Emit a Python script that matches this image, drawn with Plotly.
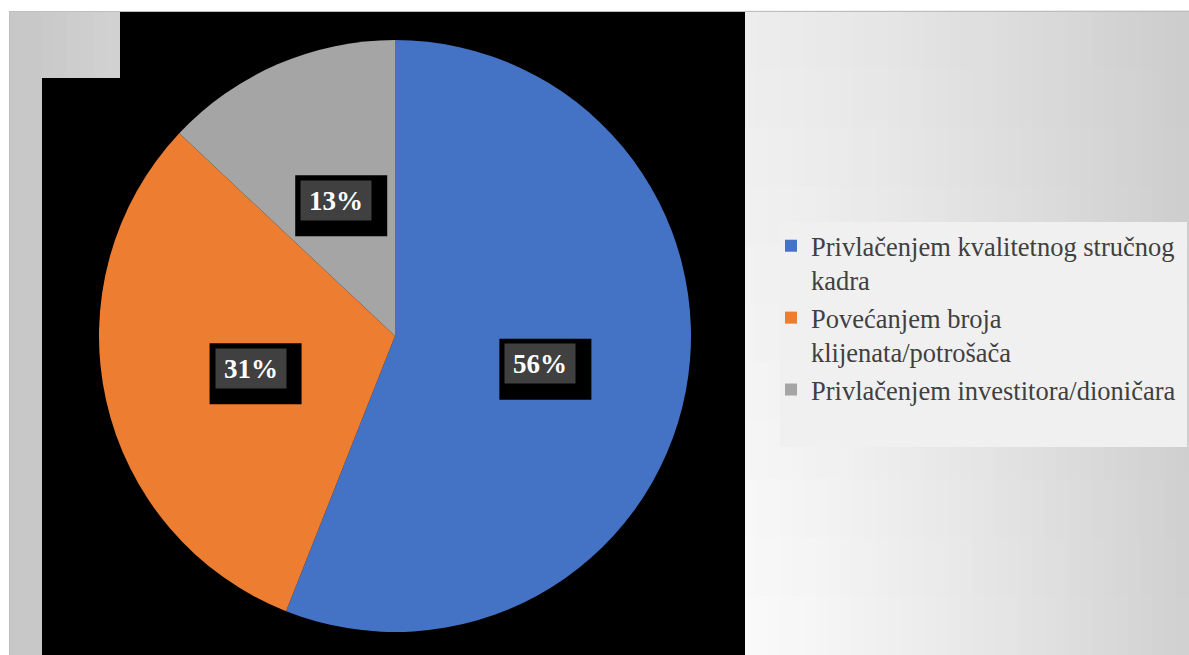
import math
import plotly.graph_objects as go

# ---- data ----
categories = [
    "Privlačenjem kvalitetnog stručnog<br>kadra",
    "Povećanjem broja<br>klijenata/potrošača",
    "Privlačenjem investitora/dioničara",
]
values = [56, 31, 13]
colors = ["#4472C4", "#ED7D31", "#A5A5A5"]

W, H = 1189, 655          # figure size = window size (page pixels)
CX, CY, R = 395, 336, 296

fig = go.Figure()

fig.add_trace(go.Pie(
    labels=categories,
    values=values,
    sort=False,
    direction="clockwise",
    rotation=0,
    marker=dict(colors=colors, line=dict(width=0)),
    textinfo="none",
    hoverinfo="label+percent",
    domain=dict(x=[(CX - R) / W, (CX + R) / W],
                y=[1 - (CY + R) / H, 1 - (CY - R) / H]),
    showlegend=True,
))

shapes = []

def rect(x0, y0, x1, y1, fill, layer="below"):
    shapes.append(dict(type="rect", xref="x", yref="y", x0=x0, y0=y0, x1=x1, y1=y1,
                       fillcolor=fill, line=dict(width=0), layer=layer))

def gray(c):
    c = int(max(0, min(255, round(c))))
    return f"rgb({c},{c},{c})"

# background: left strip and top-left block
rect(9, 11, 42, H, gray(200))
ncol_l = 6
for i in range(ncol_l):
    x0 = 42 + (120 - 42) * i / ncol_l
    x1 = 42 + (120 - 42) * (i + 1) / ncol_l
    rect(x0 - 1, 11, x1 + 1, 78, gray(201 + 9 * (i + 0.5) / ncol_l))
# right region gradient
ncol, nrow = 37, 11
x_start, x_end, y_start, y_end = 745, W, 11, H
for i in range(ncol):
    for j in range(nrow):
        u = (i + 0.5) / ncol
        v = (j + 0.5) / nrow
        left = 236 + 14 * v
        right = 204 + 4 * v
        c = left + (right - left) * (u ** 1.3)
        rect(x_start + (x_end - x_start) * i / ncol - 0.5, y_start + (y_end - y_start) * j / nrow - 0.5,
             x_start + (x_end - x_start) * (i + 1) / ncol + 0.5,
             y_start + (y_end - y_start) * (j + 1) / nrow + 0.5, gray(c))
# top / left border lines
shapes.append(dict(type="line", xref="x", yref="y", x0=9, x1=W, y0=11.5, y1=11.5,
                   line=dict(color="#bdbdbd", width=1), layer="below"))
shapes.append(dict(type="line", xref="x", yref="y", x0=9.5, x1=9.5, y0=11, y1=H,
                   line=dict(color="#bdbdbd", width=1), layer="below"))
# black plot area
rect(120, 12, 745, 78, "black")
rect(42, 78, 745, H, "black")
# legend panel
rect(780, 222, 1187, 447, "#f0f0f0")

# data labels
annotations = []
total = sum(values)
cum = 0
for v in values:
    mid = (cum + v / 2) / total * 2 * math.pi
    cum += v
    lx = CX + 0.5 * R * math.sin(mid)
    ly = CY - 0.5 * R * math.cos(mid)
    rect(lx - 41, ly - 25, lx + 51, ly + 36, "black", layer="above")
    annotations.append(dict(
        x=lx, y=ly, xref="x", yref="y", text=f"<b>{round(v / total * 100)}%</b>",
        showarrow=False, font=dict(family="Liberation Serif", size=27, color="white"),
        bgcolor="#404040", width=70, height=39, borderpad=0, align="center", valign="middle",
    ))

fig.update_layout(
    width=W, height=H,
    margin=dict(l=0, r=0, t=0, b=0),
    paper_bgcolor="white",
    plot_bgcolor="rgba(0,0,0,0)",
    xaxis=dict(range=[0, W], visible=False, domain=[0, 1], fixedrange=True),
    yaxis=dict(range=[H, 0], visible=False, domain=[0, 1], fixedrange=True),
    shapes=shapes,
    annotations=annotations,
    legend=dict(
        x=771 / W, y=1 - 222 / H, xanchor="left", yanchor="top",
        bgcolor="rgba(0,0,0,0)",
        font=dict(family="Liberation Serif", size=26.5, color="#404040"),
        valign="top",
        itemwidth=30,
    ),
)

fig.write_html(
    "out.html",
    config={"displayModeBar": False},
    post_script="document.body.style.margin='0';document.body.style.overflow='hidden';",
)
